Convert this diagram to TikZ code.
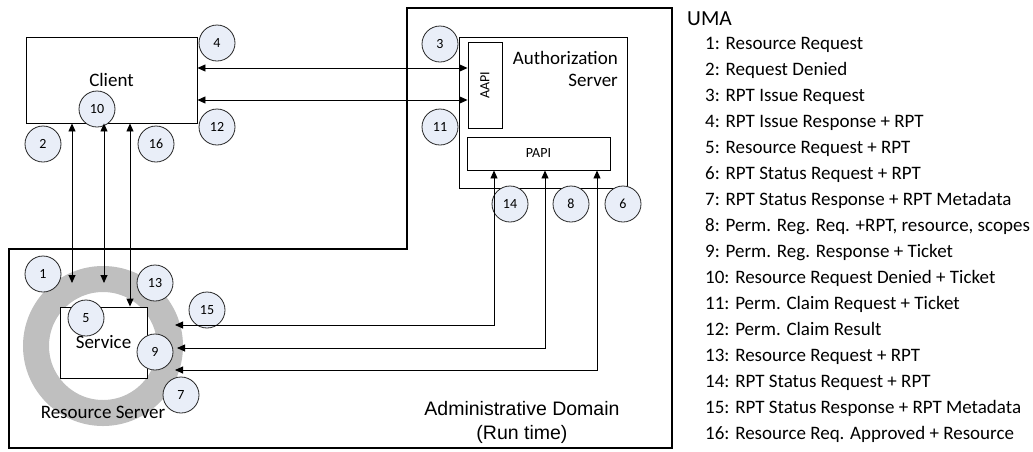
\documentclass[tikz,border=0pt]{standalone}
\usepackage{fontspec}
\setmainfont{Carlito}
\newfontfamily\arialf{Liberation Sans}
\usetikzlibrary{arrows.meta}
\definecolor{circfill}{RGB}{233,238,248}
\definecolor{ringgray}{RGB}{191,191,191}
\begin{document}
\begin{tikzpicture}[x=1pt,y=-1pt,
  box/.style={draw=black, line width=0.9pt, fill=white, inner sep=0pt},
  num/.style={circle, draw=black!85, line width=0.8pt, fill=circfill, minimum size=36pt, inner sep=0pt, font=\fontsize{14}{16}\selectfont},
  lbl/.style={font=\fontsize{19}{22}\selectfont, inner sep=0pt},
  small/.style={font=\fontsize{14}{16}\selectfont, inner sep=0pt},
  arr/.style={line width=0.9pt, {Triangle[length=8pt,width=7pt]}-{Triangle[length=8pt,width=7pt]}},
  admbound/.style={line width=2.5pt, line join=miter}]
\useasboundingbox (0,0) rectangle (1033,451);
% administrative domain boundary
\draw[admbound] (407,8) -- (672,8) -- (672,448) -- (9,448) -- (9,249) -- (407,249) -- cycle;
% resource server ring
\draw[ringgray, line width=26pt] (103,346) circle[radius=67];
% boxes
\node[box, lbl, minimum width=171pt, minimum height=86pt] (client) at (111.5,80) {Client};
\node[box, minimum width=168pt, minimum height=151pt] (as) at (543,112.5) {};
\node[box, minimum width=34pt, minimum height=86pt] (aapi) at (485,85) {};
\node[small, rotate=90] (aapitext) at (aapi.center) {AAPI};
\node[box, small, minimum width=143pt, minimum height=33pt] (papi) at (538.5,153.5) {PAPI};
\node[box, lbl, minimum width=87pt, minimum height=71pt] (service) at (103.5,342.5) {Service};
% texts
\node[lbl, align=right, anchor=north east] (astext) at (618,51) {Authorization\\Server};
\node[lbl] (rstext) at (103,412) {Resource Server};
\node[font=\arialf\fontsize{19.5}{24}\selectfont, align=center, inner sep=0pt] (adtext) at (522,422) {Administrative Domain\\(Run time)};
% numbered circles
\foreach \n/\x/\y in {4/217/43, 12/217/127, 10/97/109, 2/43/144, 16/156/144,
  3/440/44, 11/440/127, 14/510/204, 8/571/204, 6/623/204,
  1/43/274, 13/155/283, 5/86/318, 15/207/310, 9/155/352, 7/181/395}
  \node[num] (c\n) at (\x,\y) {\n};
% connector ends
\coordinate (r1) at (72,283);
\coordinate (r10) at (104,283);
\coordinate (p15) at (175,325);
\coordinate (p9) at (177,348);
\coordinate (p7) at (175,370);
\coordinate (h4) at (0,68);
\coordinate (h12) at (0,100);
% connectors
\draw[arr] ([xshift=-39.5pt]client.south) -- (r1);
\draw[arr] ([xshift=-7.5pt]client.south) -- (r10);
\draw[arr] ([xshift=18.5pt]client.south) -- ([xshift=26.5pt]service.north);
\draw[arr] (client.east |- h4) -- (aapi.west |- h4);
\draw[arr] (client.east |- h12) -- (aapi.west |- h12);
\draw[arr] ([xshift=-44.5pt]papi.south) |- (p15);
\draw[arr] ([xshift=6.5pt]papi.south) |- (p9);
\draw[arr] ([xshift=58.5pt]papi.south) |- (p7);
% legend
\node[font=\fontsize{21.5}{24}\selectfont, anchor=base west, inner sep=0pt] (uma) at (687,25) {UMA};
\foreach \i/\t in {1/Resource Request, 2/Request Denied, 3/RPT Issue Request,
  4/RPT Issue Response + RPT, 5/Resource Request + RPT, 6/RPT Status Request + RPT,
  7/RPT Status Response + RPT Metadata, 8/{Perm. Reg. Req. +RPT, resource, scopes},
  9/Perm. Reg. Response + Ticket, 10/Resource Request Denied + Ticket,
  11/Perm. Claim Request + Ticket, 12/Perm. Claim Result, 13/Resource Request + RPT,
  14/RPT Status Request + RPT, 15/RPT Status Response + RPT Metadata,
  16/Resource Req. Approved + Resource}
  \node[lbl, anchor=base west] (leg\i) at (705,{49+26*(\i-1)}) {\i: \t};
\end{tikzpicture}
\end{document}
